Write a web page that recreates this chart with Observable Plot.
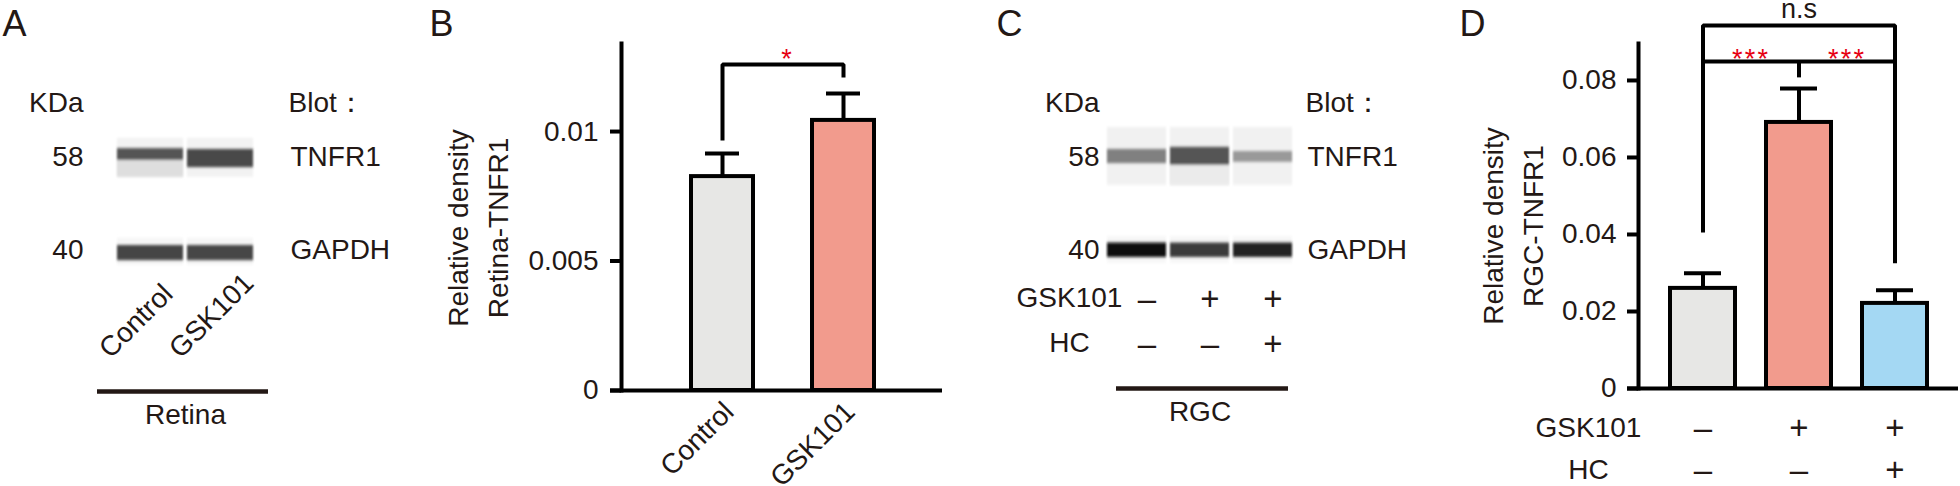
<!DOCTYPE html>
<html>
<head>
<meta charset="utf-8">
<title>TNFR1 expression in retina and RGC</title>
<script src="https://cdn.jsdelivr.net/npm/d3@7"></script>
<script src="https://cdn.jsdelivr.net/npm/@observablehq/plot@0.6"></script>
<style>
  html, body { margin: 0; padding: 0; background: #fff; }
  #fig { position: relative; width: 1960px; height: 486px; overflow: hidden; background: #fff; }
  #fig > svg { position: absolute; top: 0; }
</style>
</head>
<body>
<div id="fig"></div>
<script>
// ===================== DATA =====================
// ---- Panel A : retina capillary western (kDa positions, density 0 = white, 1 = black)
const lanesA = ["Control", "GSK101"];
const proteins = ["TNFR1", "GAPDH"];
const kdaMarkers = [58, 40];
const windowsA = [
  {protein: "TNFR1", hi: 62.6, lo: 53.6, density: 0.05},
  {protein: "GAPDH", hi: 42.0, lo: 37.7, density: 0.035}
];
const bandsA = [
  {lane: "Control", protein: "TNFR1", hi: 60.1, lo: 57.3, density: 0.67},
  {lane: "Control", protein: "TNFR1", hi: 57.3, lo: 53.6, density: 0.13},
  {lane: "GSK101",  protein: "TNFR1", hi: 59.9, lo: 55.7, density: 0.71},
  {lane: "Control", protein: "GAPDH", hi: 40.8, lo: 38.4, density: 0.73},
  {lane: "GSK101",  protein: "GAPDH", hi: 40.8, lo: 38.4, density: 0.72}
];
const groupLabelA = "Retina";

// ---- Panel B : relative density, retina
const groupsB = ["Control", "GSK101"];
const meansB = [0.00826, 0.01043];
const semsB = [0.00089, 0.00104];
const ticksB = [0, 0.005, 0.01];
const yLabelB = "Relative density\nRetina-TNFR1";
const bracketB = [
  {id: "b1", group: "Control", y: 0.00965},
  {id: "b1", group: "Control", y: 0.01259},
  {id: "b1", group: "GSK101", y: 0.01259},
  {id: "b1", group: "GSK101", y: 0.01209}
];
const sigB = [{from: "Control", label: "*", y: 0.01259}];

// ---- Panel C : RGC capillary western
const lanesC = ["Vehicle", "GSK101", "GSK101+HC"];
const gskC = ["–", "+", "+"];
const hcC = ["–", "–", "+"];
const windowsC = [
  {protein: "TNFR1", hi: 65.4, lo: 51.9, density: 0.055},
  {protein: "GAPDH", hi: 42.3, lo: 38.0, density: 0.03}
];
const bandsC = [
  {lane: "Vehicle",   protein: "TNFR1", hi: 59.9, lo: 56.6, density: 0.50},
  {lane: "GSK101",    protein: "TNFR1", hi: 60.4, lo: 56.2, density: 0.67},
  {lane: "GSK101",    protein: "TNFR1", hi: 56.2, lo: 51.9, density: 0.08},
  {lane: "GSK101+HC", protein: "TNFR1", hi: 59.4, lo: 56.9, density: 0.40},
  {lane: "Vehicle",   protein: "GAPDH", hi: 41.2, lo: 38.9, density: 0.96},
  {lane: "GSK101",    protein: "GAPDH", hi: 41.2, lo: 38.9, density: 0.77},
  {lane: "GSK101+HC", protein: "GAPDH", hi: 41.2, lo: 38.9, density: 0.87}
];
const groupLabelC = "RGC";

// ---- Panel D : relative density, RGC
const groupsD = ["Vehicle", "GSK101", "GSK101+HC"];
const meansD = [0.0260, 0.0691, 0.0221];
const semsD = [0.0039, 0.0088, 0.0034];
const ticksD = [0, 0.02, 0.04, 0.06, 0.08];
const gskD = ["–", "+", "+"];
const hcD = ["–", "–", "+"];
const yLabelD = "Relative density\nRGC-TNFR1";
const bracketD = [
  {id: "outer", group: "Vehicle", y: 0.0405},
  {id: "outer", group: "Vehicle", y: 0.0943},
  {id: "outer", group: "GSK101+HC", y: 0.0943},
  {id: "outer", group: "GSK101+HC", y: 0.0325},
  {id: "inner", group: "Vehicle", y: 0.0849},
  {id: "inner", group: "GSK101+HC", y: 0.0849},
  {id: "stub", group: "GSK101", y: 0.0849},
  {id: "stub", group: "GSK101", y: 0.0808}
];
const sigD = [
  {from: "Vehicle", label: "*\u200A*\u200A*", y: 0.0849},
  {from: "GSK101", label: "*\u200A*\u200A*", y: 0.0849}
];
const nsD = [{at: "GSK101", label: "n.s", y: 0.0943}];

// ===================== STYLE =====================
const FONT = "'Liberation Sans', Arial, Helvetica, sans-serif";
const INK = "#231815";
const H = 486;
const FS = 28;      // label font size
const FSIGN = 33;   // +/– font size
const blotKdaDomain = [32.75, 72.84];   // log MW axis of the capillary image
const grayRamp = {type: "linear", domain: [0, 1], range: ["#ffffff", "#000000"], interpolate: "rgb"};
const baseStyle = {fontFamily: FONT, fontSize: FS + "px", color: INK, overflow: "visible"};
const MID = {textAnchor: "middle", lineAnchor: "middle"};

function soften(svg, id, sd) {
  const ns = "http://www.w3.org/2000/svg";
  const defs = document.createElementNS(ns, "defs");
  const f = document.createElementNS(ns, "filter");
  f.setAttribute("id", id);
  f.setAttribute("x", "-10%"); f.setAttribute("y", "-30%");
  f.setAttribute("width", "120%"); f.setAttribute("height", "160%");
  const b = document.createElementNS(ns, "feGaussianBlur");
  b.setAttribute("stdDeviation", sd);
  f.appendChild(b); defs.appendChild(f);
  svg.insertBefore(defs, svg.firstChild);
  svg.querySelectorAll('g[aria-description="band"], g[aria-description="capillary"]')
    .forEach(g => g.setAttribute("filter", `url(#${id})`));
}

function blotPlot(o) {
  const capillaries = o.lanes.flatMap(l => o.windows.map(w => ({lane: l, ...w})));
  const rows = proteins.map((p, i) => ({protein: p, kda: kdaMarkers[i]}));
  const svg = Plot.plot({
    width: o.width, height: H,
    marginTop: 100, marginBottom: 186, marginLeft: o.ml, marginRight: o.mr,
    x: {domain: o.lanes, paddingInner: o.pad, paddingOuter: 0, axis: null},
    y: {type: "log", domain: blotKdaDomain, axis: null},
    color: grayRamp,
    style: baseStyle,
    marks: [
      Plot.barY(capillaries, {x: "lane", y1: "lo", y2: "hi", fill: "density", ariaDescription: "capillary"}),
      Plot.barY(o.bands, {x: "lane", y1: "lo", y2: "hi", fill: "density", ariaDescription: "band"}),
      Plot.text(rows, {y: "kda", text: d => String(d.kda), frameAnchor: "left", textAnchor: "end", lineAnchor: "middle", dx: o.kdaDx, fontSize: FS}),
      Plot.text(rows, {y: "kda", text: "protein", frameAnchor: "right", textAnchor: "start", lineAnchor: "middle", dx: o.blotDx, fontSize: FS}),
      Plot.text(["KDa"], {text: d => d, frameAnchor: "top-left", textAnchor: "end", lineAnchor: "middle", dx: o.kdaDx, dy: 3, fontSize: FS}),
      Plot.text(["Blot："], {text: d => d, frameAnchor: "top-right", textAnchor: "start", lineAnchor: "middle", dx: o.blotDx - 2, dy: 3, fontSize: FS}),
      Plot.text([o.letter], {text: d => d, frameAnchor: "top-left", textAnchor: "start", lineAnchor: "bottom",
        dx: o.letterX - o.ml, dy: 35 - 100, fontSize: 36}),
      Plot.ruleY([blotKdaDomain[0]], {stroke: INK, strokeWidth: 4.5, dy: o.lineDy, insetLeft: o.lineL, insetRight: o.lineR}),
      Plot.text([o.group], {text: d => d, frameAnchor: "bottom", ...MID, dy: o.lineDy + 24, fontSize: FS}),
      ...o.extra
    ]
  });
  soften(svg, "soft" + o.letter, "1.3 1.6");
  return svg;
}

function barPlot(o) {
  const data = o.groups.map((g, i) => ({group: g, mean: o.means[i], sem: o.sems[i]}));
  return Plot.plot({
    width: o.width, height: H,
    marginTop: 43, marginBottom: o.mb, marginLeft: o.ml, marginRight: o.mr,
    x: {domain: o.groups, paddingInner: o.pi, paddingOuter: o.po, align: o.align, axis: null},
    y: {domain: o.ydomain, axis: null},
    color: {domain: o.groups, range: o.colors},
    style: baseStyle,
    marks: [
      Plot.ruleX(data, {x: "group", y1: "mean", y2: d => d.mean + d.sem, stroke: "black", strokeWidth: 4}),
      Plot.tickY(data, {x: "group", y: d => d.mean + d.sem, stroke: "black", strokeWidth: 4, insetLeft: 14, insetRight: 14}),
      Plot.barY(data, {x: "group", y: "mean", fill: "group", stroke: "black", strokeWidth: 4}),
      Plot.frame({anchor: "left", stroke: "black", strokeWidth: 4}),
      Plot.ruleY([0], {stroke: "black", strokeWidth: 4, insetLeft: -11}),
      Plot.axisY({ticks: o.ticks, tickFormat: o.fmt, tickSize: 11, tickPadding: o.tp, stroke: "black",
        strokeWidth: 4, label: null, fontSize: FS}),
      Plot.text([o.ylabel], {text: d => d, frameAnchor: "left", ...MID, rotate: -90, dx: o.ylDx, dy: o.ylDy,
        lineHeight: 1.43, fontSize: FS}),
      Plot.line(o.bracket, {x: "group", y: "y", z: "id", stroke: "black", strokeWidth: 4,
        strokeLinejoin: "miter", strokeLinecap: "butt"}),
      Plot.text([o.letter], {text: d => d, frameAnchor: "top-left", textAnchor: "start", lineAnchor: "bottom",
        dx: o.letterX - o.ml, dy: -8, fontSize: 36}),
      ...o.extra(data)
    ]
  });
}

// ===================== PANELS =====================
const fig = document.getElementById("fig");
function place(svg, left) { svg.style.left = left + "px"; fig.appendChild(svg); }

// A
place(blotPlot({
  letter: "A", letterX: 2, width: 420, ml: 117, mr: 167, pad: 0.06,
  lanes: lanesA, bands: bandsA, windows: windowsA, kdaDx: -34, blotDx: 37,
  group: groupLabelA, lineDy: 91, lineL: -20, lineR: -15,
  extra: [
    Plot.text(lanesA, {x: d => d, text: d => d, frameAnchor: "bottom", rotate: -45,
      textAnchor: "start", lineAnchor: "bottom", dx: -40, dy: 59, fontSize: FS})
  ]
}), 0);

// B
place(barPlot({
  letter: "B", letterX: 9, width: 540, ml: 201, mr: 18, mb: 96,
  groups: groupsB, means: meansB, sems: semsB, ydomain: [0, 0.0134],
  pi: 0.488, po: 0.56, align: 0.51, colors: ["#e7e7e5", "#f29b8d"],
  ticks: ticksB, fmt: d => d === 0 ? "0" : String(d), tp: 12,
  ylabel: yLabelB, ylDx: -146, ylDy: 11, bracket: bracketB,
  extra: data => [
    Plot.text(sigB, {x: "from", y: "y", text: "label", fill: "#e60012", dx: 64, dy: 4,
      textAnchor: "middle", lineAnchor: "bottom", fontSize: 27}),
    Plot.text(data, {x: "group", text: "group", frameAnchor: "bottom", rotate: -45,
      textAnchor: "end", lineAnchor: "bottom", dx: 13, dy: 23, fontSize: FS})
  ]
}), 420);

// C
const treatC = lanesC.map((l, i) => ({lane: l, gsk: gskC[i], hc: hcC[i]}));
place(blotPlot({
  letter: "C", letterX: 36, width: 480, ml: 147, mr: 148, pad: 0.065,
  lanes: lanesC, bands: bandsC, windows: windowsC, kdaDx: -8, blotDx: 15,
  group: groupLabelC, lineDy: 88, lineL: 9, lineR: 4,
  extra: [
    Plot.text(treatC, {x: "lane", text: "gsk", frameAnchor: "bottom", ...MID, dx: 10, dy: -1, fontSize: FSIGN}),
    Plot.text(treatC, {x: "lane", text: "hc", frameAnchor: "bottom", ...MID, dx: 10, dy: 44, fontSize: FSIGN}),
    Plot.text(["GSK101"], {text: d => d, frameAnchor: "bottom-left", ...MID, dx: -38, dy: -2, fontSize: FS}),
    Plot.text(["HC"], {text: d => d, frameAnchor: "bottom-left", ...MID, dx: -38, dy: 43, fontSize: FS})
  ]
}), 960);

// D
place(barPlot({
  letter: "D", letterX: 19, width: 520, ml: 198, mr: 2, mb: 98,
  groups: groupsD, means: meansD, sems: semsD, ydomain: [0, 0.0896],
  pi: 0.323, po: 0.328, align: 0.5, colors: ["#e7e7e5", "#f29b8d", "#a4d8f3"],
  ticks: ticksD, fmt: d => d === 0 ? "0" : d.toFixed(2), tp: 11,
  ylabel: yLabelD, ylDx: -128, ylDy: 10, bracket: bracketD,
  extra: data => {
    const rows = data.map((d, i) => ({...d, gsk: gskD[i], hc: hcD[i]}));
    return [
      Plot.text(sigD, {x: "from", y: "y", text: "label", fill: "#e60012", dx: 47, dy: 6,
        textAnchor: "middle", lineAnchor: "bottom", fontSize: 27}),
      Plot.text(nsD, {x: "at", y: "y", text: "label", dy: -7, textAnchor: "middle", lineAnchor: "bottom", fontSize: 27}),
      Plot.text(rows, {x: "group", text: "gsk", frameAnchor: "bottom", ...MID, dy: 40, fontSize: FSIGN}),
      Plot.text(rows, {x: "group", text: "hc", frameAnchor: "bottom", ...MID, dy: 82, fontSize: FSIGN}),
      Plot.text(["GSK101"], {text: d => d, frameAnchor: "bottom-left", ...MID, dx: -50, dy: 40, fontSize: FS}),
      Plot.text(["HC"], {text: d => d, frameAnchor: "bottom-left", ...MID, dx: -50, dy: 82, fontSize: FS})
    ];
  }
}), 1440);
</script>
</body>
</html>
